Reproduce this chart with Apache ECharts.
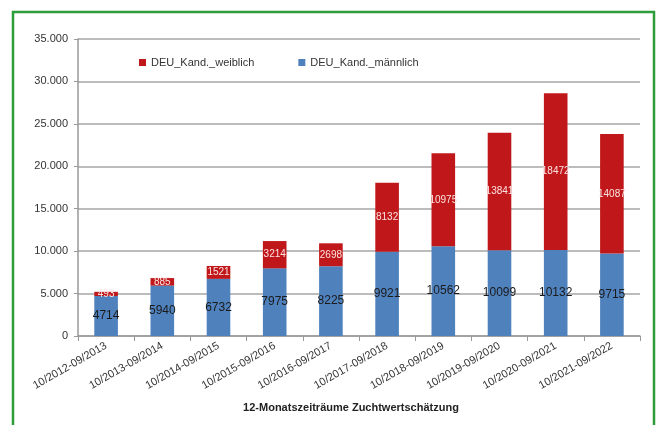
<!DOCTYPE html>
<html>
<head>
<meta charset="utf-8">
<script src="https://cdn.jsdelivr.net/npm/echarts@6/dist/echarts.min.js"></script>
<style>
  html, body { margin: 0; padding: 0; background: #fff; }
  #chart { width: 657px; height: 425px; }
</style>
</head>
<body>
<div id="chart"></div>
<script>
// Zeiträume der Zuchtwertschätzung
const categories = [
  '10/2012-09/2013', '10/2013-09/2014', '10/2014-09/2015', '10/2015-09/2016',
  '10/2016-09/2017', '10/2017-09/2018', '10/2018-09/2019', '10/2019-09/2020',
  '10/2020-09/2021', '10/2021-09/2022'
];
// Kandidaten männlich / weiblich
const maleValues = [4714, 5940, 6732, 7975, 8225, 9921, 10562, 10099, 10132, 9715];
const femaleValues = [493, 885, 1521, 3214, 2698, 8132, 10975, 13841, 18472, 14087];
// Y-Achse
const yTicks = [0, 5000, 10000, 15000, 20000, 25000, 30000, 35000];

const FONT = 'Liberation Sans, Arial, sans-serif';
const fmtThousands = v => v === 0 ? '0' : String(v).replace(/\B(?=(\d{3})+(?!\d))/g, '.');

const chart = echarts.init(document.getElementById('chart'), null, { renderer: 'canvas' });
chart.setOption({
  animation: false,
  textStyle: { fontFamily: FONT },
  graphic: [{
    type: 'rect',
    shape: { x: 13, y: 12, width: 641, height: 430 },
    style: { fill: 'none', stroke: '#2e9e3a', lineWidth: 2.5 },
    silent: true
  }],
  legend: {
    left: 134, top: 52,
    itemWidth: 7, itemHeight: 7, itemGap: 44,
    icon: 'rect',
    textStyle: { fontSize: 11, color: '#333', fontFamily: FONT },
    data: ['DEU_Kand._weiblich', 'DEU_Kand._männlich']
  },
  grid: { left: 78, right: 17, top: 39, bottom: 89 },
  xAxis: {
    type: 'category',
    data: categories,
    name: '12-Monatszeiträume Zuchtwertschätzung',
    nameLocation: 'middle',
    nameGap: 66,
    nameTextStyle: { fontSize: 11, fontWeight: 'bold', color: '#222', fontFamily: FONT, padding: [0, 16, 0, 0] },
    axisLine: { lineStyle: { color: '#999', width: 1.5 } },
    axisTick: { show: true, length: 5, lineStyle: { color: '#999' } },
    axisLabel: { rotate: 30, fontSize: 11, color: '#333', margin: 9, interval: 0, fontFamily: FONT }
  },
  yAxis: {
    type: 'value',
    min: yTicks[0], max: yTicks[yTicks.length - 1], interval: 5000,
    axisLine: { show: true, lineStyle: { color: '#999', width: 1.5 } },
    axisTick: { show: true, length: 4, lineStyle: { color: '#999' } },
    splitLine: { lineStyle: { color: '#a6a6a6', width: 1.5 } },
    axisLabel: { fontSize: 11, color: '#333', margin: 10, formatter: fmtThousands, fontFamily: FONT }
  },
  series: [
    {
      name: 'DEU_Kand._männlich',
      type: 'bar', stack: 'total',
      barWidth: '42%',
      data: maleValues,
      itemStyle: { color: '#4f81bd' },
      label: {
        show: true, position: 'inside', fontSize: 12, color: '#1a1a1a',
        formatter: p => String(p.value)
      }
    },
    {
      name: 'DEU_Kand._weiblich',
      type: 'bar', stack: 'total',
      barWidth: '42%',
      data: femaleValues,
      itemStyle: { color: '#c0181a' },
      label: {
        show: true, position: 'inside', fontSize: 10, color: '#fbe3e3',
        formatter: p => String(p.value)
      }
    }
  ]
});
</script>
</body>
</html>
